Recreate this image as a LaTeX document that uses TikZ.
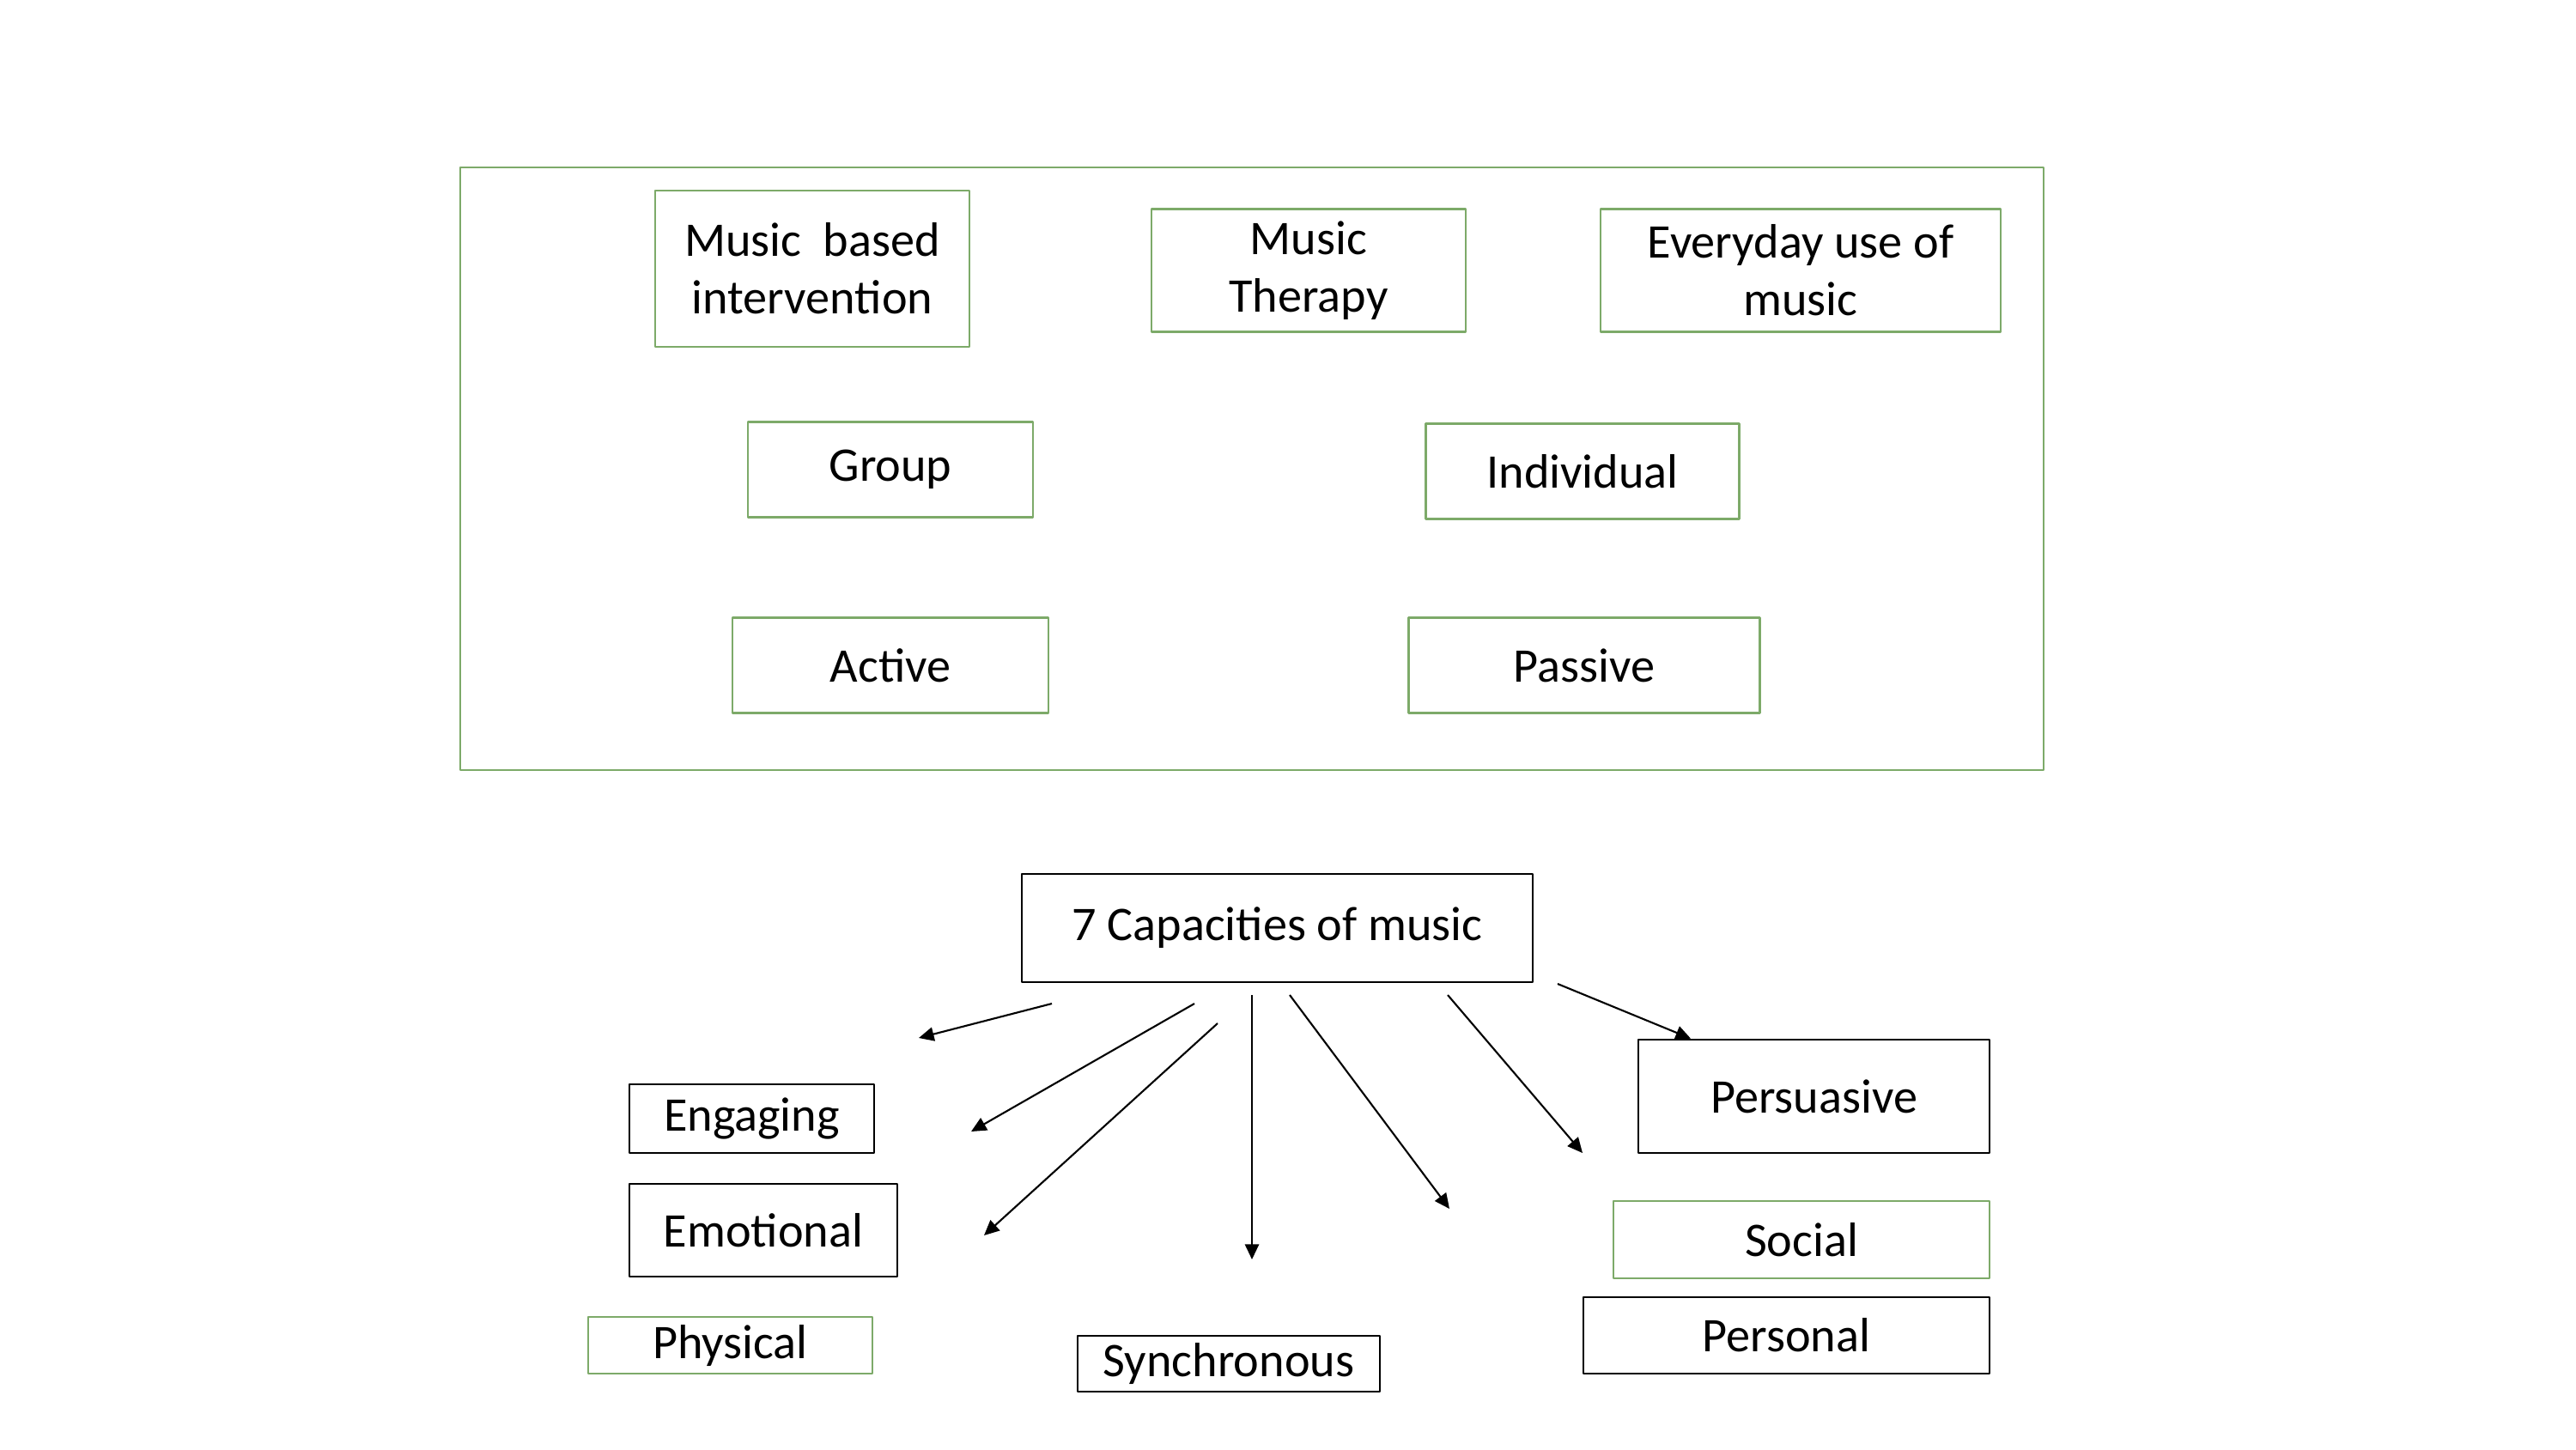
\documentclass[tikz,border=0pt]{standalone}
\usepackage{fontspec}
\setmainfont{Carlito}
\usetikzlibrary{arrows.meta}
\definecolor{boxgreen}{RGB}{125,170,105}
\begin{document}
\begin{tikzpicture}[x=1cm,y=-1cm, line join=round,
    font=\fontsize{16pt}{19pt}\selectfont,
    gbox/.style={draw=boxgreen,line width=.65pt,inner sep=0pt,align=center},
    kbox/.style={draw=black,line width=.75pt,inner sep=0pt,align=center},
    arr/.style={-{Triangle[length=5pt,width=4.6pt]},line width=.6pt}]
    \useasboundingbox (0,0) rectangle (30,16.88);
    %Khung tren
    \draw[boxgreen,line width=.65pt] (5.36,1.95) rectangle (23.80,8.97);
    \node[gbox,minimum width=3.66cm,minimum height=1.82cm] (mbi) at (9.46,3.13) {Music\ \ based\\intervention};
    \node[gbox,minimum width=3.66cm,minimum height=1.43cm] (mt) at (15.24,3.15) {Music\\Therapy};
    \node[gbox,minimum width=4.66cm,minimum height=1.43cm] (eum) at (20.97,3.15) {Everyday use of\\music};
    \node[gbox,minimum width=3.32cm,minimum height=1.11cm] (grp) at (10.37,5.47) {Group};
    \node[gbox,minimum width=3.65cm,minimum height=1.11cm] (ind) at (18.43,5.49) {Individual};
    \node[gbox,minimum width=3.68cm,minimum height=1.11cm] (act) at (10.37,7.75) {Active};
    \node[gbox,minimum width=4.09cm,minimum height=1.11cm] (pas) at (18.45,7.75) {Passive};
    %7 capacities
    \node[kbox,minimum width=5.95cm,minimum height=1.26cm] (cap) at (14.875,10.81) {7 Capacities of music};
    \node[kbox,minimum width=2.85cm,minimum height=.80cm] (eng) at (8.755,13.03) {Engaging};
    \node[kbox,minimum width=3.12cm,minimum height=1.08cm] (emo) at (8.89,14.33) {Emotional};
    \node[gbox,minimum width=3.31cm,minimum height=.66cm] (phy) at (8.505,15.67) {Physical};
    \node[kbox,minimum width=3.52cm,minimum height=.65cm] (syn) at (14.31,15.885) {Synchronous};
    \node[kbox,minimum width=4.09cm,minimum height=1.32cm] (per) at (21.125,12.77) {Persuasive};
    \node[gbox,minimum width=4.38cm,minimum height=.90cm] (soc) at (20.98,14.44) {Social};
    \node[kbox,minimum width=4.73cm,minimum height=.89cm] (pers) at (20.805,15.555) {Personal};
    %Mui ten
    \coordinate (s1) at (12.25,11.69); \coordinate (e1) at (10.70,12.09);
    \coordinate (s2) at (13.91,11.69); \coordinate (e2) at (11.31,13.18);
    \coordinate (s3) at (14.18,11.92); \coordinate (e3) at (11.46,14.39);
    \coordinate (s4) at (14.58,11.59); \coordinate (e4) at (14.58,14.67);
    \coordinate (s5) at (15.02,11.59); \coordinate (e5) at (16.88,14.08);
    \coordinate (s6) at (16.86,11.59); \coordinate (e6) at (18.43,13.43);
    \coordinate (s7) at (18.14,11.46);
    \foreach \a/\b in {s1/e1,s2/e2,s3/e3,s4/e4,s5/e5,s6/e6}
        \draw[arr] (\a)--(\b);
    \draw[arr] (s7)--(per.north west-|19.69,0);
\end{tikzpicture}
\end{document}
